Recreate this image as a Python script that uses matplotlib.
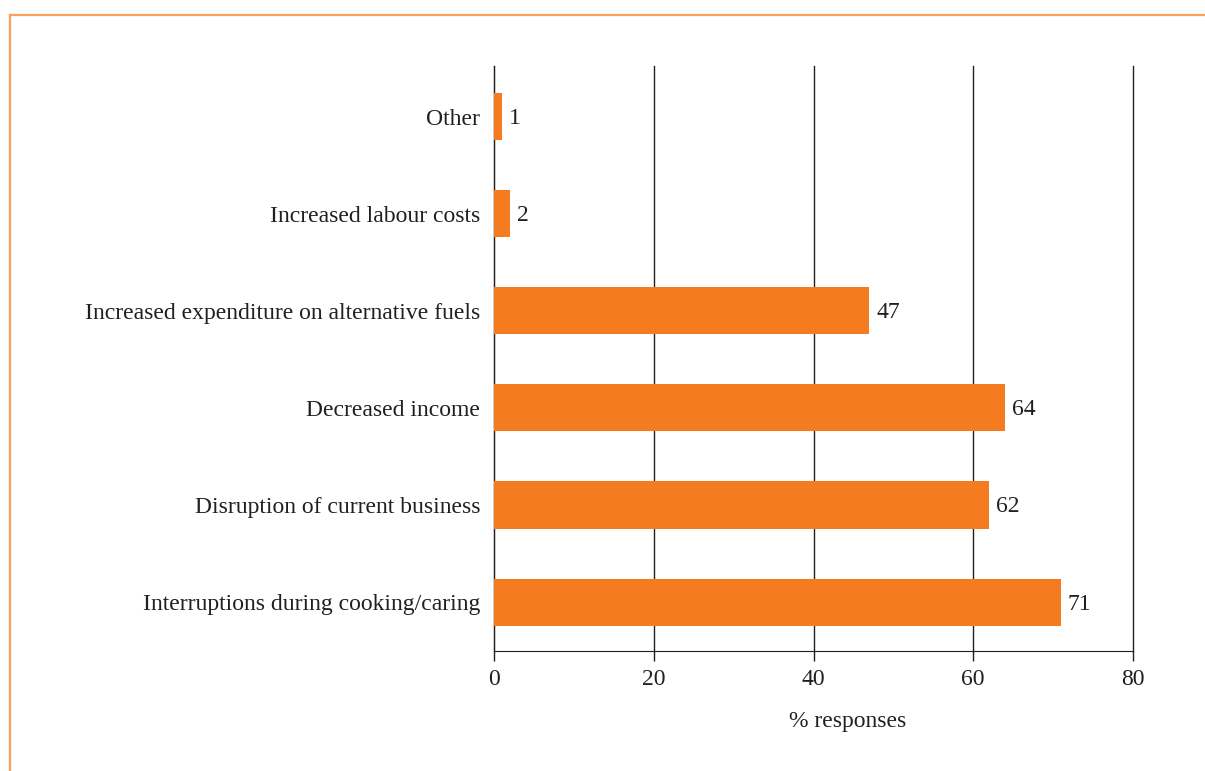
import matplotlib
matplotlib.use("Agg")
import matplotlib.pyplot as plt
from matplotlib.lines import Line2D

categories = ["Interruptions during cooking/caring", "Disruption of current business",
              "Decreased income", "Increased expenditure on alternative fuels",
              "Increased labour costs", "Other"]
values = [71, 62, 64, 47, 2, 1]
xticks = [0, 20, 40, 60, 80]

plt.rcParams['font.family'] = ['Liberation Serif', 'DejaVu Serif']
fig = plt.figure(figsize=(12.05, 7.71), dpi=100)
ax = fig.add_axes([494/1205, 1-651/771, (1133-494)/1205, (651-66)/771])

fs = 17
bar_color = "#F47B20"
ypos = list(range(len(categories)))
bars = ax.barh(ypos, values, height=0.485, color=bar_color, zorder=3)
for y, v in zip(ypos, values):
    ax.text(v + 0.85, y - 0.02, str(v), va='center', ha='left', fontsize=fs, color='#231f20')

ax.set_xlim(0, 80)
ax.set_ylim(-0.503, 5.52)
ax.set_yticks(ypos)
ax.set_yticklabels(categories, fontsize=fs, color='#231f20')
ax.tick_params(axis='y', length=0, pad=10)
ax.set_xticks(xticks)
ax.set_xticklabels([str(t) for t in xticks], fontsize=fs, color='#231f20')
ax.tick_params(axis='x', length=7, width=1, color='#231f20', pad=6)
ax.xaxis.grid(True, color='#231f20', linewidth=1, zorder=0)
for gl in ax.get_xgridlines():
    gl.set_clip_on(False)
ax.set_axisbelow(True)
for s in ['top', 'right']:
    ax.spines[s].set_visible(False)
ax.spines['left'].set_color('#231f20')
ax.spines['bottom'].set_color('#231f20')
ax.set_xlabel("% responses", fontsize=fs, color='#231f20', labelpad=17)
ax.xaxis.set_label_coords((848-494)/639, -(722-651)/585, transform=ax.transAxes)
ax.xaxis.label.set_va('center')

border = "#F9A05E"
fig.add_artist(Line2D([10/1205, 10/1205], [0, 1-15/771], transform=fig.transFigure, color=border, lw=1.6))
fig.add_artist(Line2D([10/1205, 1], [1-15/771, 1-15/771], transform=fig.transFigure, color=border, lw=1.6))

fig.savefig("out.png", dpi=100)
